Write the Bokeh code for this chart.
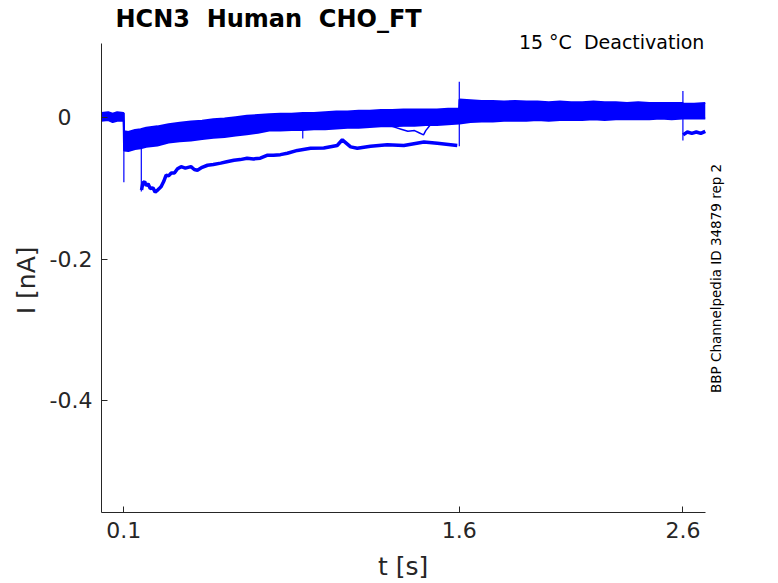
from bokeh.plotting import figure
from bokeh.models import Range1d, FixedTicker, Label
from bokeh.embed import file_html
from bokeh.resources import INLINE
import math

# ---------------- data ----------------
# envelope of the cluster of overlapping sweeps (nA)
band_t = [0.000, 0.030, 0.050, 0.070, 0.099,
          0.101, 0.120, 0.150, 0.175, 0.200, 0.250, 0.300, 0.350, 0.400, 0.450,
          0.500, 0.550, 0.600, 0.650, 0.700, 0.750, 0.800, 0.850, 0.900, 0.950,
          1.000, 1.050, 1.100, 1.150, 1.200, 1.250, 1.300, 1.350, 1.400, 1.450,
          1.500, 1.550, 1.599,
          1.601, 1.650, 1.700, 1.750, 1.800, 1.850, 1.900, 1.950, 2.000, 2.050,
          2.100, 2.150, 2.200, 2.250, 2.300, 2.350, 2.400, 2.450, 2.500, 2.550, 2.599,
          2.601, 2.650, 2.700]
band_hi = [0.007, 0.008, 0.006, 0.008, 0.007,
           -0.019, -0.020, -0.017, -0.016, -0.014, -0.012, -0.009, -0.007, -0.005, -0.004,
           -0.002, -0.001, 0.001, 0.003, 0.004, 0.005, 0.006, 0.006, 0.007, 0.007,
           0.008, 0.009, 0.009, 0.010, 0.010, 0.011, 0.011, 0.012, 0.012, 0.012,
           0.012, 0.013, 0.013,
           0.026, 0.025, 0.024, 0.024, 0.023, 0.024, 0.023, 0.023, 0.022, 0.023,
           0.022, 0.022, 0.023, 0.022, 0.022, 0.021, 0.022, 0.021, 0.021, 0.021, 0.021,
           0.020, 0.020, 0.021]
band_lo = [-0.004, -0.003, -0.006, -0.004, -0.004,
           -0.046, -0.047, -0.044, -0.043, -0.041, -0.039, -0.035, -0.033, -0.032, -0.030,
           -0.028, -0.027, -0.025, -0.023, -0.021, -0.018, -0.018, -0.017, -0.017, -0.016,
           -0.016, -0.015, -0.014, -0.014, -0.013, -0.012, -0.012, -0.011, -0.011, -0.010,
           -0.010, -0.009, -0.008,
           -0.008, -0.006, -0.005, -0.005, -0.004, -0.004, -0.004, -0.003, -0.004, -0.003,
           -0.003, -0.003, -0.002, -0.003, -0.002, -0.002, -0.002, -0.002, -0.001, -0.002, -0.001,
           -0.001, -0.001, -0.001]

# the separated sweep (slow deactivating trace)
low_t = [0.179, 0.185, 0.193, 0.200, 0.208, 0.218, 0.230, 0.240, 0.248, 0.258,
         0.267, 0.278, 0.289, 0.300, 0.312, 0.326, 0.340, 0.356, 0.375, 0.400,
         0.415, 0.429, 0.450, 0.474, 0.500, 0.533, 0.560, 0.592, 0.620, 0.651,
         0.680, 0.710, 0.740, 0.769, 0.800, 0.831, 0.876, 0.935, 0.994, 1.054,
         1.077, 1.114, 1.144, 1.203, 1.278, 1.352, 1.442, 1.502, 1.591]
low_i = [-0.102, -0.092, -0.090, -0.096, -0.093, -0.100, -0.099, -0.105, -0.103, -0.100,
         -0.097, -0.090, -0.081, -0.082, -0.078, -0.078, -0.072, -0.069, -0.071, -0.069,
         -0.073, -0.074, -0.070, -0.067, -0.066, -0.064, -0.062, -0.060, -0.059, -0.057,
         -0.058, -0.057, -0.053, -0.053, -0.052, -0.050, -0.046, -0.043, -0.0425, -0.039,
         -0.031, -0.041, -0.043, -0.040, -0.038, -0.039, -0.034, -0.036, -0.039]

# same sweep after the final step
tail_t = [2.601, 2.620, 2.640, 2.660, 2.680, 2.700]
tail_i = [-0.024, -0.020, -0.022, -0.020, -0.022, -0.019]

# one sweep dipping below the cluster
dip_t = [1.300, 1.340, 1.370, 1.400, 1.420, 1.440, 1.450, 1.470]
dip_i = [-0.012, -0.016, -0.019, -0.018, -0.021, -0.024, -0.018, -0.010]

# capacitive transients at the voltage steps
spike_t = [0.100, 0.178, 0.900, 1.600, 2.600]
spike_hi = [0.007, -0.030, -0.012, 0.051, 0.038]
spike_lo = [-0.091, -0.104, -0.029, -0.040, -0.032]

x_ticks = [0.1, 1.6, 2.6]
x_tick_labels = ["0.1", "1.6", "2.6"]
y_ticks = [-0.4, -0.2, 0]
y_tick_labels = ["-0.4", "-0.2", "0\u2007\u2008"]
x_limits = (0.0, 2.7)
y_limits = (-0.5581, 0.105)

NB = "\u00a0"
title_text = "HCN3 " + NB + "Human " + NB + "CHO_FT"
cond_text = "15 \u00b0C " + NB + "Deactivation"
side_text = "BBP Channelpedia ID 34879 rep 2"
x_label = "t [s]" + "\u2007\u2007\u2007\u2008"
y_label = "I [nA]" + "\u2007\u2007\u2008\u2008"

# ---------------- figure ----------------
FONT = "DejaVu Sans"
INK = "#262626"
BLUE = "#0000ff"

# the frame is extended beyond the axes (axis lines limited with bounds) so that
# the title and side texts can live inside it
p = figure(width=778, height=583, output_backend="svg", toolbar_location=None,
           title_location=None,
           x_range=Range1d(0, 2.947), y_range=Range1d(-0.5581, 0.166),
           min_border_left=101, min_border_right=18, min_border_top=0,
           min_border_bottom=70)
p.outline_line_color = None
p.grid.visible = False
p.background_fill_color = "white"
p.border_fill_color = "white"

p.varea(x=band_t, y1=band_lo, y2=band_hi, fill_color=BLUE, fill_alpha=1.0)
p.line(band_t, band_hi, line_color=BLUE, line_width=2)
p.line(band_t, band_lo, line_color=BLUE, line_width=2)
p.line(low_t, low_i, line_color=BLUE, line_width=3.5)
p.line(tail_t, tail_i, line_color=BLUE, line_width=3.5)
p.line(dip_t, dip_i, line_color=BLUE, line_width=1.5)
p.segment(x0=spike_t, y0=spike_lo, x1=spike_t, y1=spike_hi, line_color=BLUE, line_width=1.2)

for ax in (p.xaxis[0], p.yaxis[0]):
    ax.axis_line_color = INK
    ax.major_tick_line_color = INK
    ax.major_tick_in = 6
    ax.major_tick_out = 0
    ax.minor_tick_line_color = None
    ax.major_label_text_font = FONT
    ax.major_label_text_font_size = "22px"
    ax.major_label_text_color = INK
    ax.axis_label_text_font = FONT
    ax.axis_label_text_font_size = "25px"
    ax.axis_label_text_font_style = "normal"
    ax.axis_label_text_color = INK

p.xaxis.bounds = x_limits
p.yaxis.bounds = y_limits
p.xaxis.ticker = FixedTicker(ticks=x_ticks)
p.xaxis.major_label_overrides = dict(zip(x_ticks, x_tick_labels))
p.yaxis.ticker = FixedTicker(ticks=y_ticks)
p.yaxis.major_label_overrides = dict(zip(y_ticks, y_tick_labels))
p.xaxis.axis_label = x_label
p.yaxis.axis_label = y_label
p.xaxis.major_label_standoff = 9
p.xaxis.axis_label_standoff = 11
p.yaxis.major_label_standoff = 9
p.yaxis.axis_label_standoff = 6

p.add_layout(Label(x=0.0626, y=0.1405, text=title_text, text_font=FONT,
                   text_font_size="24px", text_font_style="bold", text_color="black",
                   text_align="left", text_baseline="alphabetic"))
p.add_layout(Label(x=2.696, y=0.108, text=cond_text, text_font=FONT,
                   text_font_size="19px", text_color="black",
                   text_align="right", text_baseline="alphabetic"))
p.add_layout(Label(x=2.750, y=-0.227, text=side_text, text_font=FONT,
                   text_font_size="13.5px", text_color="black", angle=math.pi / 2,
                   text_align="center", text_baseline="middle"))

open("out.html", "w").write(file_html(p, INLINE))
